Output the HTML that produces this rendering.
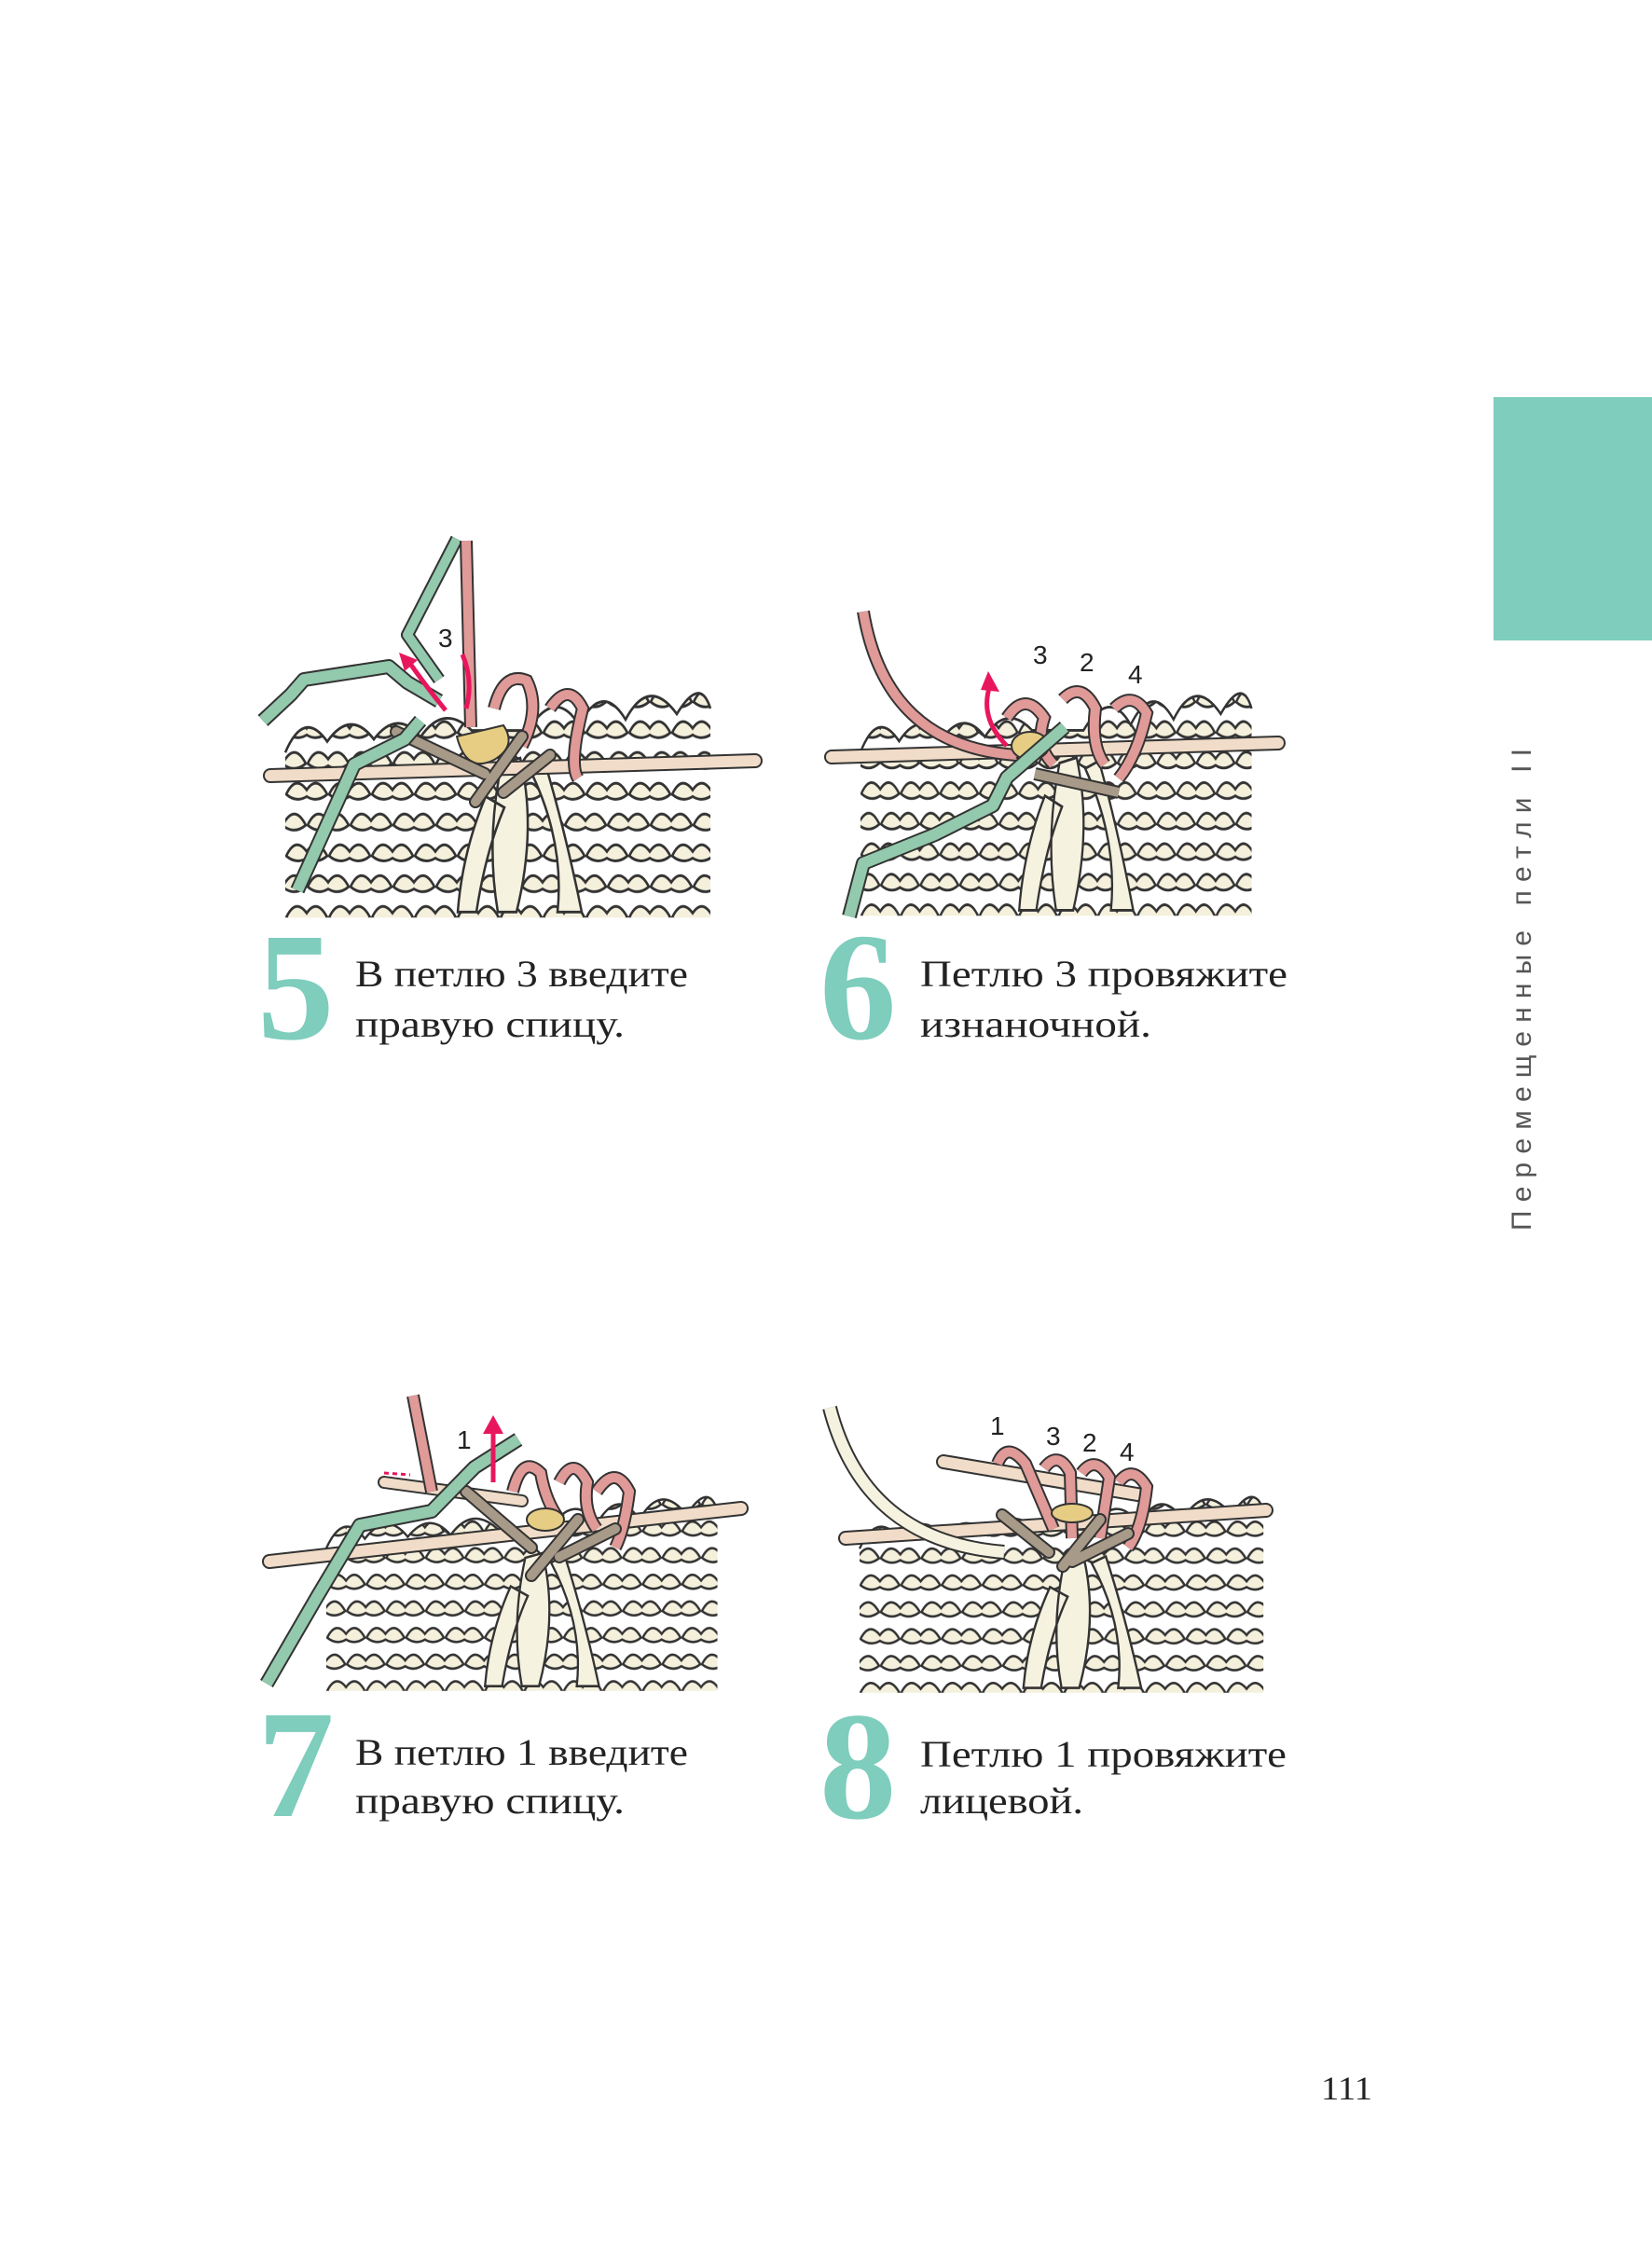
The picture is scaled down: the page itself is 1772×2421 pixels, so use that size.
<!DOCTYPE html>
<html><head><meta charset="utf-8"><style>
html,body{margin:0;padding:0;background:#fff}
svg{display:block}
</style></head><body>
<svg width="1772" height="2421" viewBox="0 0 1772 2421" xmlns="http://www.w3.org/2000/svg">
<defs>
<pattern id="knit" width="46" height="56" patternUnits="userSpaceOnUse">
<rect width="46" height="56" fill="#ffffff"/>
<path d="M1 22 q10 -18 22 -4 q11 -14 22 4 q-11 8 -22 2 q-11 6 -22 -2z" fill="#f4f0dc" stroke="#333" stroke-width="2.5"/>
<path d="M-22 50 q10 -18 22 -4 q11 -14 22 4 q-11 8 -22 2 q-11 6 -22 -2z M24 50 q10 -18 22 -4 q11 -14 22 4 q-11 8 -22 2 q-11 6 -22 -2z" fill="#f4f0dc" stroke="#333" stroke-width="2.5"/>
</pattern>
<g id="fab">
<path d="M0 40 Q20 0 45 30 Q70 0 95 28 Q120 0 145 26 Q170 -5 200 20 L260 20 Q290 -20 315 15 Q340 -25 365 10 Q390 -30 420 5 Q445 -30 456 0 L456 190 L0 190 Z" fill="url(#knit)"/>
<path d="M0 40 Q20 0 45 30 Q70 0 95 28 Q120 0 145 26 Q170 -5 200 20 L260 20 Q290 -20 315 15 Q340 -25 365 10 Q390 -30 420 5 Q445 -30 456 0" fill="none" stroke="#333" stroke-width="2.5"/>
<path d="M232 50 Q215 120 228 185 L248 185 Q270 110 252 45 Z M262 55 Q300 120 292 185 L318 185 Q300 110 278 48Z M215 80 Q190 130 185 185 L205 185 Q215 130 235 90Z" fill="#f6f2e0" stroke="#333" stroke-width="2.5"/>
</g>
</defs>

<rect x="1602" y="426" width="170" height="261" fill="#7ecdbd"/>
<text transform="translate(1642,1320) rotate(-90)" font-family="Liberation Sans, sans-serif" font-size="30" fill="#555" textLength="517" lengthAdjust="spacing">Перемещенные петли II</text>

<!-- STEP 5 -->
<use href="#fab" transform="translate(306,760) scale(1,1.18)"/>
<line x1="290" y1="832" x2="810" y2="816" stroke="#333" stroke-width="16" stroke-linecap="round"/>
<line x1="290" y1="832" x2="810" y2="816" stroke="#f0dcc8" stroke-width="12" stroke-linecap="round"/>
<polyline points="282,773 312,745 326,729 417,715 437,732 471,752" fill="none" stroke="#333" stroke-width="16" stroke-linejoin="round"/>
<polyline points="282,773 312,745 326,729 417,715 437,732 471,752" fill="none" stroke="#93c9ad" stroke-width="12" stroke-linejoin="round"/>
<polyline points="471,729 437,681 490,578" fill="none" stroke="#333" stroke-width="14" stroke-linejoin="round"/>
<polyline points="471,729 437,681 490,578" fill="none" stroke="#93c9ad" stroke-width="10" stroke-linejoin="round"/>
<path d="M500 580 L505 780" stroke="#333" stroke-width="14" fill="none"/>
<path d="M500 580 L505 780" stroke="#e09a98" stroke-width="10" fill="none"/>
<path d="M490 790 Q500 830 530 815 Q555 800 540 778 Z" fill="#e6cd83" stroke="#333" stroke-width="2"/>
<path d="M530 760 Q540 720 565 730 Q580 760 560 800 M590 760 Q610 730 625 760 Q610 820 620 835" fill="none" stroke="#333" stroke-width="14"/>
<path d="M530 760 Q540 720 565 730 Q580 760 560 800 M590 760 Q610 730 625 760 Q610 820 620 835" fill="none" stroke="#e09a98" stroke-width="10"/>
<path d="M425 785 L520 830 M560 790 L510 860 M590 810 L540 850" stroke="#333" stroke-width="14" fill="none" stroke-linecap="round"/>
<path d="M425 785 L520 830 M560 790 L510 860 M590 810 L540 850" stroke="#a89a88" stroke-width="10" fill="none" stroke-linecap="round"/>
<polyline points="319,955 380,820 434,793 451,773" fill="none" stroke="#333" stroke-width="16" stroke-linejoin="round"/>
<polyline points="319,955 380,820 434,793 451,773" fill="none" stroke="#93c9ad" stroke-width="12" stroke-linejoin="round"/>
<path d="M478 762 Q460 740 440 712" stroke="#e8175d" stroke-width="5" fill="none"/>
<polygon points="428,700 448,708 434,720" fill="#e8175d"/>
<path d="M496 702 Q508 730 500 760" stroke="#e8175d" stroke-width="5" fill="none"/>
<text x="470" y="694" font-family="Liberation Sans, sans-serif" font-size="28" fill="#222">3</text>
<text x="276" y="1114" font-family="Liberation Serif, serif" font-weight="bold" font-size="165" fill="#7ecdbd">5</text>
<text x="381" y="1058" font-family="Liberation Serif, serif" font-size="40" fill="#222" textLength="357" lengthAdjust="spacingAndGlyphs">В петлю 3 введите</text>
<text x="381" y="1112" font-family="Liberation Serif, serif" font-size="40" fill="#222" textLength="289" lengthAdjust="spacingAndGlyphs">правую спицу.</text>

<!-- STEP 6 -->
<use href="#fab" transform="translate(923,760) scale(0.92,1.17)"/>
<line x1="892" y1="812" x2="1371" y2="797" stroke="#333" stroke-width="16" stroke-linecap="round"/>
<line x1="892" y1="812" x2="1371" y2="797" stroke="#f0dcc8" stroke-width="12" stroke-linecap="round"/>
<path d="M926 656 Q950 800 1090 810" fill="none" stroke="#333" stroke-width="14"/>
<path d="M926 656 Q950 800 1090 810" fill="none" stroke="#e09a98" stroke-width="10"/>
<path d="M1080 770 Q1100 740 1120 770 Q1110 800 1130 820 M1140 750 Q1160 730 1175 760 Q1170 800 1185 820 M1195 760 Q1215 740 1230 765 Q1220 810 1200 835" fill="none" stroke="#333" stroke-width="14"/>
<path d="M1080 770 Q1100 740 1120 770 Q1110 800 1130 820 M1140 750 Q1160 730 1175 760 Q1170 800 1185 820 M1195 760 Q1215 740 1230 765 Q1220 810 1200 835" fill="none" stroke="#e09a98" stroke-width="10"/>
<ellipse cx="1105" cy="800" rx="20" ry="15" fill="#e6cd83" stroke="#333" stroke-width="2"/>
<path d="M1110 830 L1200 850" stroke="#333" stroke-width="14"/>
<path d="M1110 830 L1200 850" stroke="#a89a88" stroke-width="10"/>
<polyline points="911,983 926,926 1003,895 1065,864 1080,834 1142,780" fill="none" stroke="#333" stroke-width="16" stroke-linejoin="round"/>
<polyline points="911,983 926,926 1003,895 1065,864 1080,834 1142,780" fill="none" stroke="#93c9ad" stroke-width="12" stroke-linejoin="round"/>
<path d="M1080 800 Q1050 770 1062 735" stroke="#e8175d" stroke-width="5" fill="none"/>
<polygon points="1060,720 1072,742 1052,740" fill="#e8175d"/>
<text x="1108" y="712" font-family="Liberation Sans, sans-serif" font-size="28" fill="#222">3</text>
<text x="1158" y="720" font-family="Liberation Sans, sans-serif" font-size="28" fill="#222">2</text>
<text x="1210" y="733" font-family="Liberation Sans, sans-serif" font-size="28" fill="#222">4</text>
<text x="879" y="1114" font-family="Liberation Serif, serif" font-weight="bold" font-size="165" fill="#7ecdbd">6</text>
<text x="987" y="1058" font-family="Liberation Serif, serif" font-size="40" fill="#222" textLength="394" lengthAdjust="spacingAndGlyphs">Петлю 3 провяжите</text>
<text x="987" y="1112" font-family="Liberation Serif, serif" font-size="40" fill="#222" textLength="248" lengthAdjust="spacingAndGlyphs">изнаночной.</text>

<!-- STEP 7 -->
<use href="#fab" transform="translate(350,1620) scale(0.92,1.02)"/>
<line x1="289" y1="1675" x2="795" y2="1618" stroke="#333" stroke-width="16" stroke-linecap="round"/>
<line x1="289" y1="1675" x2="795" y2="1618" stroke="#f0dcc8" stroke-width="12" stroke-linecap="round"/>
<line x1="412" y1="1590" x2="560" y2="1610" stroke="#333" stroke-width="14" stroke-linecap="round"/>
<line x1="412" y1="1590" x2="560" y2="1610" stroke="#f0dcc8" stroke-width="10" stroke-linecap="round"/>
<path d="M443 1497 L463 1600" stroke="#333" stroke-width="14" fill="none"/>
<path d="M443 1497 L463 1600" stroke="#e09a98" stroke-width="10" fill="none"/>
<path d="M550 1600 Q560 1560 580 1580 Q585 1610 600 1630 M600 1590 Q615 1560 630 1590 Q625 1620 640 1640 M640 1600 Q660 1570 675 1600 Q670 1640 660 1660" fill="none" stroke="#333" stroke-width="14"/>
<path d="M550 1600 Q560 1560 580 1580 Q585 1610 600 1630 M600 1590 Q615 1560 630 1590 Q625 1620 640 1640 M640 1600 Q660 1570 675 1600 Q670 1640 660 1660" fill="none" stroke="#e09a98" stroke-width="10"/>
<ellipse cx="585" cy="1630" rx="20" ry="12" fill="#e6cd83" stroke="#333" stroke-width="2"/>
<path d="M500 1600 L570 1660 M620 1630 L570 1690 M660 1640 L600 1670" stroke="#333" stroke-width="14" fill="none" stroke-linecap="round"/>
<path d="M500 1600 L570 1660 M620 1630 L570 1690 M660 1640 L600 1670" stroke="#a89a88" stroke-width="10" fill="none" stroke-linecap="round"/>
<polyline points="286,1806 340,1713 386,1636 463,1621 509,1574 556,1544" fill="none" stroke="#333" stroke-width="16" stroke-linejoin="round"/>
<polyline points="286,1806 340,1713 386,1636 463,1621 509,1574 556,1544" fill="none" stroke="#93c9ad" stroke-width="12" stroke-linejoin="round"/>
<path d="M529 1590 L529 1535" stroke="#e8175d" stroke-width="5"/>
<polygon points="518,1538 529,1518 540,1538" fill="#e8175d"/>
<path d="M412 1580 L440 1582" stroke="#e8175d" stroke-width="3" stroke-dasharray="5 4"/>
<text x="490" y="1554" font-family="Liberation Sans, sans-serif" font-size="28" fill="#222">1</text>
<text x="276" y="1948" font-family="Liberation Serif, serif" font-weight="bold" font-size="165" fill="#7ecdbd">7</text>
<text x="381" y="1893" font-family="Liberation Serif, serif" font-size="40" fill="#222" textLength="357" lengthAdjust="spacingAndGlyphs">В петлю 1 введите</text>
<text x="381" y="1945" font-family="Liberation Serif, serif" font-size="40" fill="#222" textLength="289" lengthAdjust="spacingAndGlyphs">правую спицу.</text>

<!-- STEP 8 -->
<use href="#fab" transform="translate(922,1620) scale(0.95,1.03)"/>
<line x1="907" y1="1650" x2="1358" y2="1620" stroke="#333" stroke-width="16" stroke-linecap="round"/>
<line x1="907" y1="1650" x2="1358" y2="1620" stroke="#f0dcc8" stroke-width="12" stroke-linecap="round"/>
<path d="M1012 1568 L1220 1603" stroke="#333" stroke-width="16" stroke-linecap="round"/>
<path d="M1012 1568 L1220 1603" stroke="#f0dcc8" stroke-width="12" stroke-linecap="round"/>
<path d="M890 1510 Q927 1653 1077 1665" fill="none" stroke="#333" stroke-width="16"/>
<path d="M890 1510 Q927 1653 1077 1665" fill="none" stroke="#f6f2e0" stroke-width="12"/>
<path d="M1070 1570 Q1080 1545 1100 1570 L1130 1640 M1120 1575 Q1135 1555 1148 1580 L1150 1650 M1160 1580 Q1175 1560 1190 1585 L1180 1650 M1200 1590 Q1215 1570 1230 1595 Q1225 1640 1210 1660" fill="none" stroke="#333" stroke-width="14"/>
<path d="M1070 1570 Q1080 1545 1100 1570 L1130 1640 M1120 1575 Q1135 1555 1148 1580 L1150 1650 M1160 1580 Q1175 1560 1190 1585 L1180 1650 M1200 1590 Q1215 1570 1230 1595 Q1225 1640 1210 1660" fill="none" stroke="#e09a98" stroke-width="10"/>
<ellipse cx="1150" cy="1623" rx="22" ry="10" fill="#e6cd83" stroke="#333" stroke-width="2"/>
<path d="M1075 1625 L1125 1665 M1180 1630 L1140 1680 M1210 1645 L1150 1675" stroke="#333" stroke-width="14" fill="none" stroke-linecap="round"/>
<path d="M1075 1625 L1125 1665 M1180 1630 L1140 1680 M1210 1645 L1150 1675" stroke="#a89a88" stroke-width="10" fill="none" stroke-linecap="round"/>
<text x="1062" y="1539" font-family="Liberation Sans, sans-serif" font-size="28" fill="#222">1</text>
<text x="1122" y="1550" font-family="Liberation Sans, sans-serif" font-size="28" fill="#222">3</text>
<text x="1161" y="1557" font-family="Liberation Sans, sans-serif" font-size="28" fill="#222">2</text>
<text x="1201" y="1567" font-family="Liberation Sans, sans-serif" font-size="28" fill="#222">4</text>
<text x="879" y="1950" font-family="Liberation Serif, serif" font-weight="bold" font-size="165" fill="#7ecdbd">8</text>
<text x="987" y="1895" font-family="Liberation Serif, serif" font-size="40" fill="#222" textLength="393" lengthAdjust="spacingAndGlyphs">Петлю 1 провяжите</text>
<text x="987" y="1945" font-family="Liberation Serif, serif" font-size="40" fill="#222" textLength="175" lengthAdjust="spacingAndGlyphs">лицевой.</text>

<text x="1417" y="2252" font-family="Liberation Serif, serif" font-size="36" fill="#222" textLength="55" lengthAdjust="spacingAndGlyphs">111</text>
</svg>
</body></html>
